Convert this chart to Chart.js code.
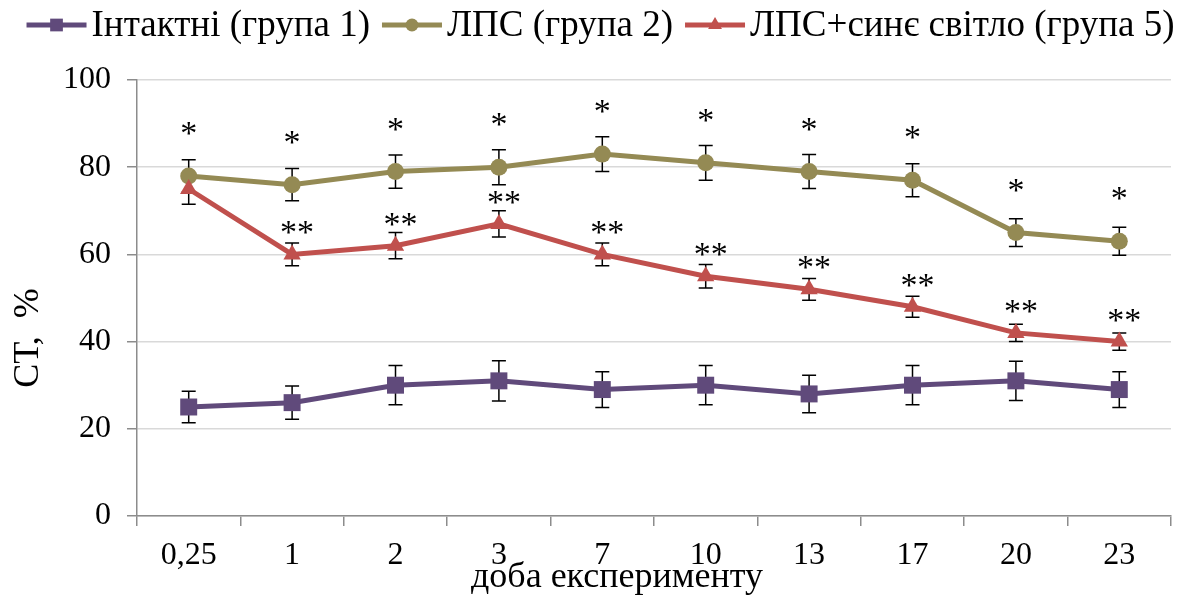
<!DOCTYPE html>
<html>
<head>
<meta charset="utf-8">
<script src="https://cdn.jsdelivr.net/npm/chart.js@4.4.1/dist/chart.umd.min.js"></script>
<style>
  html, body { margin: 0; background: #fff; }
  #wrap { width: 1189px; height: 599px; }
</style>
</head>
<body>
<div id="wrap"><canvas id="chart"></canvas></div>
<script>
// days of the experiment
const days = ["0,25", "1", "2", "3", "7", "10", "13", "17", "20", "23"]

// group 1: intact
const intact = [25, 26, 30, 31, 29, 30, 28, 30, 31, 29]
const intactErr = [3.6, 3.8, 4.5, 4.6, 4.1, 4.5, 4.3, 4.5, 4.5, 4.1]

// group 2: LPS
const lps = [78, 76, 79, 80, 83, 81, 79, 77, 65, 63]
const lpsErr = [3.7, 3.7, 3.8, 4, 4, 4, 3.9, 3.8, 3.2, 3.2]
const lpsMarks = ["*", "*", "*", "*", "*", "*", "*", "*", "*", "*"]

// group 5: LPS + blue light
const lpsBlue = [75, 60, 62, 67, 60, 55, 52, 48, 42, 40]
const lpsBlueErr = [3.5, 2.6, 3, 3, 2.6, 2.7, 2.5, 2.4, 2, 2]
const lpsBlueMarks = ["", "**", "**", "**", "**", "**", "**", "**", "**", "**"]

const yTicks = [0, 20, 40, 60, 80, 100]
const yTitle = "СТ,  %"
const xTitle = "доба експерименту"

const FONT = "'Liberation Serif', 'Times New Roman', serif"
const PURPLE = "rgb(96, 74, 123)"
const OLIVE = "rgb(148, 138, 84)"
const RED = "rgb(192, 80, 77)"
const AXIS = "#8c8c8c"

const markerSize = { rect: 9, circle: 6.5, triangle: 8 }

function drawMarker(g, style, x, y, r) {
  g.beginPath()
  if (style === "rect") {
    const s = r * Math.SQRT1_2
    g.rect(x - s, y - s, 2 * s, 2 * s)
  } else if (style === "circle") {
    g.arc(x, y, r, 0, Math.PI * 2)
  } else {
    g.moveTo(x, y - r)
    g.lineTo(x + r * 0.866, y + r * 0.5)
    g.lineTo(x - r * 0.866, y + r * 0.5)
    g.closePath()
  }
  g.fill()
}

const extras = {
  id: "extras",
  beforeDatasetsDraw(chart) {
    // error bars under the lines and markers
    const ctx = chart.ctx
    const y = chart.scales.y
    ctx.save()
    ctx.strokeStyle = "#000"
    ctx.lineWidth = 1.5
    chart.data.datasets.forEach((ds, di) => {
      const meta = chart.getDatasetMeta(di)
      meta.data.forEach((pt, i) => {
        const top = y.getPixelForValue(ds.data[i] + ds.errors[i])
        const bot = y.getPixelForValue(ds.data[i] - ds.errors[i])
        ctx.beginPath()
        ctx.moveTo(pt.x, top)
        ctx.lineTo(pt.x, bot)
        ctx.moveTo(pt.x - 7, top)
        ctx.lineTo(pt.x + 7, top)
        ctx.moveTo(pt.x - 7, bot)
        ctx.lineTo(pt.x + 7, bot)
        ctx.stroke()
      })
    })
    ctx.restore()
  },
  afterDatasetsDraw(chart) {
    // significance asterisks
    const ctx = chart.ctx
    ctx.save()
    ctx.fillStyle = "#000"
    ctx.font = "34px " + FONT
    ctx.textAlign = "center"
    ctx.textBaseline = "alphabetic"
    chart.data.datasets.forEach((ds, di) => {
      if (!ds.marks) return
      const meta = chart.getDatasetMeta(di)
      meta.data.forEach((pt, i) => {
        const m = ds.marks[i]
        if (!m) return
        const dx = m.length > 1 ? 5 : 0
        const lift = m.length > 1 ? 27 : 48
        ctx.fillText(m, pt.x + dx, pt.y - lift + 16)
      })
    })
    ctx.restore()
  },
  afterDraw(chart) {
    const ctx = chart.ctx
    ctx.save()
    ctx.fillStyle = "#000"

    // legend: line with marker, then the label
    ctx.font = "37px " + FONT
    ctx.textBaseline = "middle"
    ctx.textAlign = "left"
    const iconW = 60, gap = 5, itemGap = 12, legendY = 25
    const items = chart.data.datasets.map(ds => ({ ds, w: ctx.measureText(ds.label).width }))
    const total = items.reduce((s, it) => s + iconW + gap + it.w, 0) + itemGap * (items.length - 1)
    let x = (chart.width - total) / 2 + 6
    items.forEach(it => {
      ctx.strokeStyle = it.ds.borderColor
      ctx.fillStyle = it.ds.borderColor
      ctx.lineWidth = 5
      ctx.beginPath()
      ctx.moveTo(x, legendY)
      ctx.lineTo(x + iconW, legendY)
      ctx.stroke()
      drawMarker(ctx, it.ds.pointStyle, x + iconW / 2, legendY, markerSize[it.ds.pointStyle])
      x += iconW + gap
      ctx.fillStyle = "#000"
      ctx.fillText(it.ds.label, x, legendY + 1)
      x += it.w + itemGap
    })

    // x axis title
    ctx.font = "36px " + FONT
    ctx.textAlign = "center"
    ctx.fillText(xTitle, 617, 578)

    // y axis title, a bit below the middle of the axis
    ctx.translate(29, 338)
    ctx.rotate(-Math.PI / 2)
    ctx.fillText(yTitle, 0, 0)
    ctx.restore()
  }
}

new Chart(document.getElementById("chart"), {
  type: "line",
  data: {
    labels: days,
    datasets: [
      {
        label: "Інтактні (група 1)",
        data: intact,
        errors: intactErr,
        borderColor: PURPLE,
        backgroundColor: PURPLE,
        borderWidth: 5,
        pointStyle: "rect",
        pointRadius: 12,
        pointBorderWidth: 0,
        order: 2
      },
      {
        label: "ЛПС (група 2)",
        data: lps,
        errors: lpsErr,
        marks: lpsMarks,
        borderColor: OLIVE,
        backgroundColor: OLIVE,
        borderWidth: 5,
        pointStyle: "circle",
        pointRadius: 8.5,
        pointBorderWidth: 0,
        order: 1
      },
      {
        label: "ЛПС+синє світло (група 5)",
        data: lpsBlue,
        errors: lpsBlueErr,
        marks: lpsBlueMarks,
        borderColor: RED,
        backgroundColor: RED,
        borderWidth: 5,
        pointStyle: "triangle",
        pointRadius: 10,
        pointBorderWidth: 0,
        order: 0
      }
    ]
  },
  options: {
    responsive: true,
    maintainAspectRatio: false,
    animation: false,
    layout: {
      padding: { left: 0, right: 18, top: 80, bottom: 0 }
    },
    plugins: {
      legend: { display: false },
      tooltip: { enabled: false }
    },
    scales: {
      x: {
        offset: true,
        grid: {
          offset: true,
          drawOnChartArea: false,
          color: AXIS,
          tickColor: AXIS,
          tickLength: 10,
          lineWidth: 1.5
        },
        border: { color: AXIS, width: 1.5 },
        ticks: {
          color: "#000",
          padding: 10,
          maxRotation: 0,
          autoSkip: false,
          font: { family: FONT, size: 32 }
        },
        afterFit(scale) { scale.height = 83 }
      },
      y: {
        min: 0,
        max: 100,
        afterBuildTicks(scale) { scale.ticks = yTicks.map(v => ({ value: v })) },
        grid: {
          color: "#d9d9d9",
          tickColor: AXIS,
          tickLength: 10,
          lineWidth: 1.5
        },
        border: { color: AXIS, width: 1.5 },
        ticks: {
          color: "#000",
          padding: 16,
          font: { family: FONT, size: 32 }
        },
        afterFit(scale) { scale.width = 137 }
      }
    }
  },
  plugins: [extras]
})
</script>
</body>
</html>
